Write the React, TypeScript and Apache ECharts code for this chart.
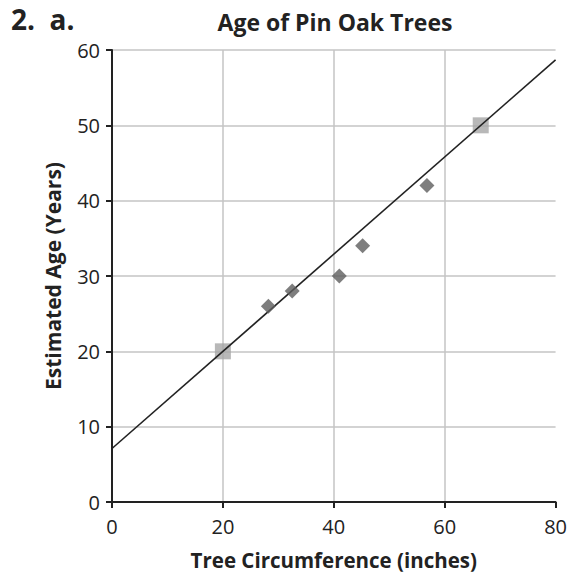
import React, { useEffect, useRef } from "react";
import * as echarts from "echarts";

const xTicks = [0, 20, 40, 60, 80];
const yTicks = [0, 10, 20, 30, 40, 50, 60];
// Observed trees (diamonds)
const observed: [number, number][] = [
  [28.2, 26],
  [32.5, 28],
  [41, 30],
  [45.2, 34],
  [56.8, 42],
];
// Chosen points (squares)
const chosen: [number, number][] = [
  [20, 20],
  [66.5, 50],
];
// Fit line endpoints
const fitLine: [number, number][] = [
  [0, 7.1],
  [80, 58.7],
];

const FONT = "Open Sans";

export default function App() {
  const ref = useRef<HTMLDivElement>(null);
  useEffect(() => {
    if (!ref.current) return;
    const chart = echarts.init(ref.current, null, { renderer: "svg" });
    chart.setOption({
      animation: false,
      backgroundColor: "#ffffff",
      textStyle: { fontFamily: FONT },
      graphic: [
        {
          type: "text",
          left: 11,
          top: 5,
          style: { text: "2.  a.", font: `bold 28px "${FONT}"`, fill: "#222" },
        },
        {
          type: "text",
          x: 335,
          y: 22,
          style: {
            text: "Age of Pin Oak Trees",
            font: `bold 23px "${FONT}"`,
            fill: "#222",
            align: "center",
            verticalAlign: "middle",
          },
        },
      ],
      grid: { left: 112, right: 13, top: 50, bottom: 72 },
      xAxis: {
        type: "value",
        min: xTicks[0],
        max: xTicks[xTicks.length - 1],
        interval: 20,
        name: "Tree Circumference (inches)",
        nameLocation: "middle",
        nameGap: 47,
        nameTextStyle: { fontFamily: FONT, fontWeight: "bold", fontSize: 20.5, color: "#222" },
        axisLine: { show: true, onZero: false, lineStyle: { color: "#222", width: 2 } },
        axisTick: { show: true, length: 6, lineStyle: { color: "#222", width: 2 } },
        axisLabel: { fontFamily: FONT, fontSize: 20, color: "#222", margin: 14 },
        splitLine: { show: true, showMinLine: false, showMaxLine: false, lineStyle: { color: "#c4c4c4", width: 1.5 } },
      },
      yAxis: {
        type: "value",
        min: yTicks[0],
        max: yTicks[yTicks.length - 1],
        interval: 10,
        name: "Estimated Age (Years)",
        nameLocation: "middle",
        nameGap: 49,
        nameTextStyle: { fontFamily: FONT, fontWeight: "bold", fontSize: 21, color: "#222" },
        axisLine: { show: true, onZero: false, lineStyle: { color: "#222", width: 2 } },
        axisTick: { show: true, length: 6, lineStyle: { color: "#222", width: 2 } },
        axisLabel: { fontFamily: FONT, fontSize: 20, color: "#222", margin: 12 },
        splitLine: { show: true, showMinLine: false, lineStyle: { color: "#c4c4c4", width: 1.5 } },
      },
      series: [
        {
          type: "line",
          data: fitLine,
          showSymbol: false,
          symbol: "none",
          lineStyle: { color: "#222", width: 1.6 },
          z: 3,
        },
        {
          type: "scatter",
          data: chosen,
          symbol: "rect",
          symbolSize: 16,
          itemStyle: { color: "#a6a6a6" },
          z: 2,
        },
        {
          type: "scatter",
          data: observed,
          symbol: "diamond",
          symbolSize: [15, 15],
          itemStyle: { color: "#5e5e5e" },
          z: 4,
        },
      ],
    });
    return () => chart.dispose();
  }, []);
  return (
    <div
      ref={ref}
      style={{ position: "fixed", left: 0, top: 0, width: 570, height: 575, background: "#fff" }}
    />
  );
}
